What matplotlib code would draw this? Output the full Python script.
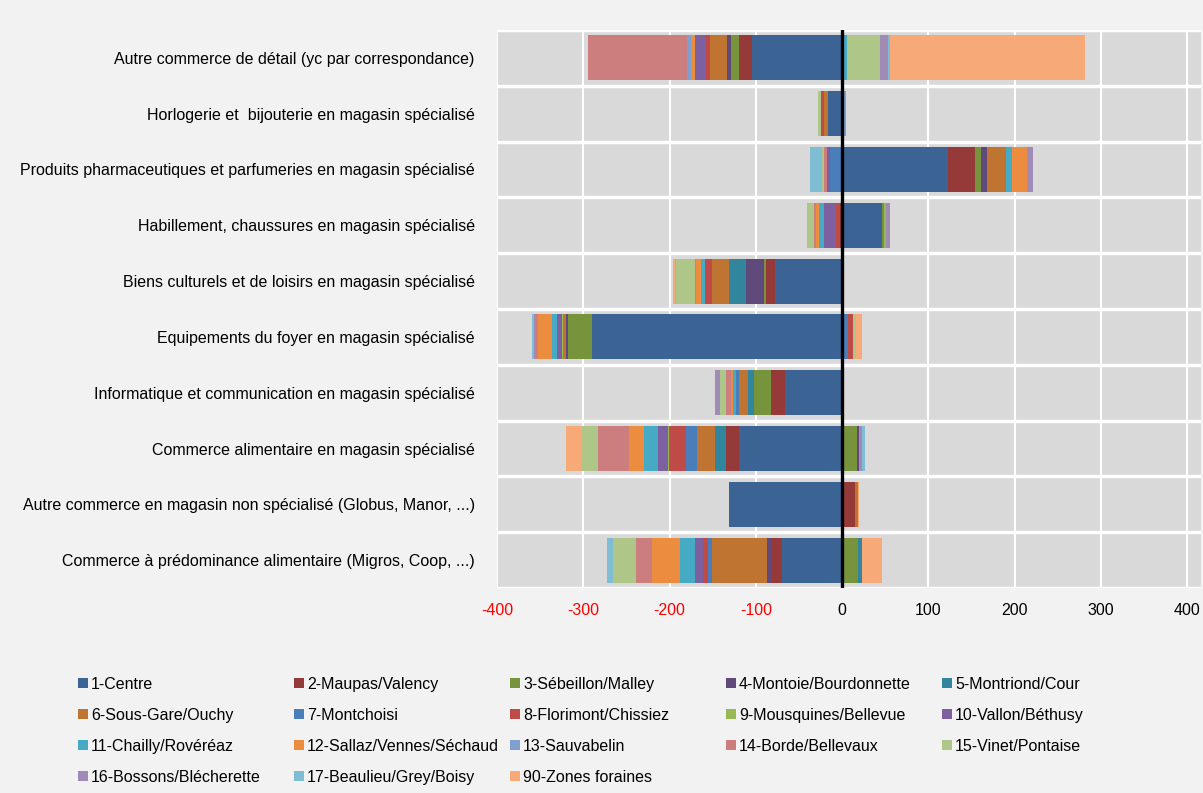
import numpy as np
import matplotlib.pyplot as plt
from matplotlib.patches import Rectangle

plt.rcParams['font.family'] = ['Liberation Sans', 'DejaVu Sans']

# categories, top to bottom
categories = [
    "Autre commerce de détail (yc par correspondance)",
    "Horlogerie et  bijouterie en magasin spécialisé",
    "Produits pharmaceutiques et parfumeries en magasin spécialisé",
    "Habillement, chaussures en magasin spécialisé",
    "Biens culturels et de loisirs en magasin spécialisé",
    "Equipements du foyer en magasin spécialisé",
    "Informatique et communication en magasin spécialisé",
    "Commerce alimentaire en magasin spécialisé",
    "Autre commerce en magasin non spécialisé (Globus, Manor, ...)",
    "Commerce à prédominance alimentaire (Migros, Coop, ...)",
]

names = [
    "1-Centre", "2-Maupas/Valency", "3-Sébeillon/Malley", "4-Montoie/Bourdonnette",
    "5-Montriond/Cour", "6-Sous-Gare/Ouchy", "7-Montchoisi", "8-Florimont/Chissiez",
    "9-Mousquines/Bellevue", "10-Vallon/Béthusy", "11-Chailly/Rovéréaz",
    "12-Sallaz/Vennes/Séchaud", "13-Sauvabelin", "14-Borde/Bellevaux",
    "15-Vinet/Pontaise", "16-Bossons/Blécherette", "17-Beaulieu/Grey/Boisy",
    "90-Zones foraines",
]

colors = [
    "#3B6494", "#953A38", "#77933C", "#604A7B", "#31859C", "#C07432",
    "#4A7EBB", "#BE4B48", "#98B954", "#7D60A0", "#46AAC5", "#EB8C3F",
    "#7F9FCF", "#CB7E7D", "#AEC687", "#A08BB6", "#7EBDD3", "#F8A978",
]

# values per district, one per category (same order as categories)
centre = [-104, -16, 123, 46, -78, -290, -66, -120, -131, -70]
maupas = [-15, 0, 31, -3, -10, 0, -16, -15, 15, -12]
sebeillon = [-10, 0, 6.5, 2, -3, -28, -20, 17, 0, 18]
montoie = [-4, 0, 8, 0, -20, -2, 0, 3, 0, -5]
montriond = [0, 0, 0, 0, -20, 0, -7, -12, 0, 5]
sous_gare = [-20, -5, 22, 0, -20, -3, -10, -21, 3, -64]
montchoisi = [0, 0, -14, 0, 2, 7, -4, -13, 0, -4]
florimont = [-5, -4, -1, -4, -8, 6, 0, -20, 0, -6]
mousquines = [0, 0, 0, 3, 0, -2, 0, -1, 0, 0]
vallon = [-13, 0, -2, -14, 0, -5, 0, -11, 0, -10]
chailly = [6, 0, 6, -6, -5, -6, -3, -17, 0, -17]
sallaz = [-4, 0, 18, -3, -5, -16, -3, -17, 0, -32]
sauvabelin = [-5, 4, 0, 0, 0, 0, 0, 0, 0, 0]
borde = [-115, 0, -4, -2, -2, -3, -5, -36, 0, -19]
vinet = [38, -3, -2, -9, -21, 3, -8, -18, 0, -26]
bossons = [9, 0, 6.5, 4, 0, -2, -5, 3, 0, 0]
beaulieu = [2, 0, -14, 0, -2, -2, 0, 3, 0, -8]
forains = [226, 0, 0, 0, -2, 7, 0, -19, 2, 23]

series = [centre, maupas, sebeillon, montoie, montriond, sous_gare, montchoisi,
          florimont, mousquines, vallon, chailly, sallaz, sauvabelin, borde,
          vinet, bossons, beaulieu, forains]

W, H = 1203, 793
fig = plt.figure(figsize=(W / 100, H / 100), dpi=100, facecolor="#F2F2F2")
ax = fig.add_axes([497 / W, 1 - 588 / H, (1201 - 497) / W, (588 - 30) / H])
ax.set_facecolor("#D9D9D9")

y = np.arange(len(categories))
pos_base = np.zeros(len(categories))
neg_base = np.zeros(len(categories))
for vals, color in zip(series, colors):
    v = np.array(vals, dtype=float)
    left = np.where(v >= 0, pos_base, neg_base)
    ax.barh(y, v, left=left, height=0.81, color=color, zorder=3)
    pos_base += np.clip(v, 0, None)
    neg_base += np.clip(v, None, 0)

ax.axvline(0, color="black", lw=2.4, zorder=5)

# white grid: vertical every 100, horizontal between categories
for xv in range(-400, 401, 100):
    ax.axvline(xv, color="white", lw=1.5, zorder=1)
for yv in np.arange(-0.5, len(categories)):
    ax.axhline(yv, color="white", lw=2.5, zorder=2)

ax.set_xlim(-400, 416)
ax.set_ylim(len(categories) - 0.5, -0.5)
ax.set_yticks(y)
ax.set_yticklabels(categories, fontsize=11.5)
xt = list(range(-400, 401, 100))
ax.set_xticks(xt)
ax.set_xticklabels([str(t) for t in xt], fontsize=11.5)
for lab, t in zip(ax.get_xticklabels(), xt):
    lab.set_color("red" if t < 0 else "black")
ax.tick_params(axis="y", length=0, pad=16)
ax.tick_params(axis="x", length=0, pad=11)
for s in ax.spines.values():
    s.set_visible(False)

# legend, filled row by row
col_x = [78, 294, 510, 726, 942]
row_y = [683, 714, 745, 776]
for i, (name, color) in enumerate(zip(names, colors)):
    cx = col_x[i % 5]
    cy = row_y[i // 5]
    fig.add_artist(Rectangle((cx / W, 1 - (cy + 5) / H), 10 / W, 10 / H,
                             transform=fig.transFigure, facecolor=color,
                             edgecolor="none"))
    fig.text((cx + 13) / W, 1 - cy / H, name, fontsize=11.5,
             va="center_baseline", ha="left")

fig.savefig("out.png", dpi=100, facecolor=fig.get_facecolor())
